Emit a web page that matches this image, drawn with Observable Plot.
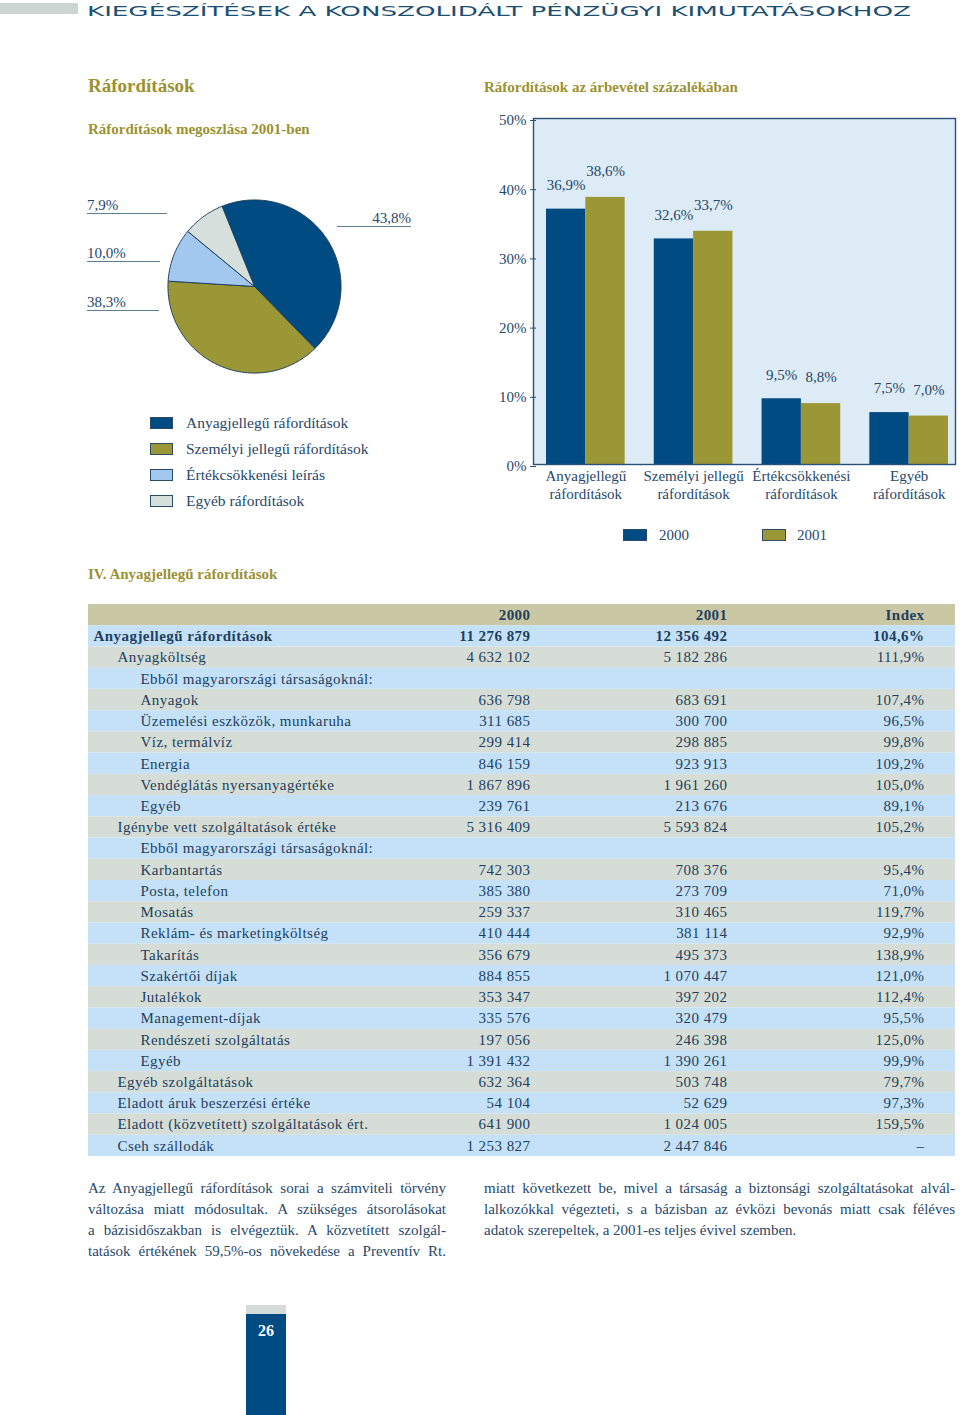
<!DOCTYPE html>
<html><head><meta charset="utf-8">
<script src="https://cdn.jsdelivr.net/npm/d3@7"></script>
<script src="https://cdn.jsdelivr.net/npm/@observablehq/plot@0.6"></script>
<style>
html,body{margin:0;padding:0;background:#fff;}
#page{position:relative;width:960px;height:1415px;overflow:hidden;font-family:"Liberation Serif",serif;color:#27486a;}
.abs{position:absolute;white-space:nowrap;}
.ttl{color:#9a9233;font-weight:bold;}
.line{white-space:nowrap;text-align:justify;text-align-last:justify;height:21px;line-height:21px;}
.line.last{text-align-last:left;}
</style></head>
<body><div id="page"></div>
<script>
// ---------- data ----------
const pieLabels = ["Anyagjellegű ráfordítások","Személyi jellegű ráfordítások","Értékcsökkenési leírás","Egyéb ráfordítások"];
const pieValues = [43.8, 38.3, 10.0, 7.9];
const pieColors = ["#004b82","#9c9736","#a3c8f0","#d5dfdc"];

const barCats = ["Anyagjellegű ráfordítások","Személyi jellegű ráfordítások","Értékcsökkenési ráfordítások","Egyéb ráfordítások"];
const barCatLines = ["Anyagjellegű\nráfordítások","Személyi jellegű\nráfordítások","Értékcsökkenési\nráfordítások","Egyéb\nráfordítások"];
const years = ["2000","2001"];
const share2000 = [36.9, 32.6, 9.5, 7.5];
const share2001 = [38.6, 33.7, 8.8, 7.0];
const yTicks = [0,10,20,30,40,50];

const tableHeader = ["", "2000", "2001", "Index"];
const rowLabels = ["Anyagjellegű ráfordítások","Anyagköltség","Ebből magyarországi társaságoknál:","Anyagok","Üzemelési eszközök, munkaruha","Víz, termálvíz","Energia","Vendéglátás nyersanyagértéke","Egyéb","Igénybe vett szolgáltatások értéke","Ebből magyarországi társaságoknál:","Karbantartás","Posta, telefon","Mosatás","Reklám- és marketingköltség","Takarítás","Szakértői díjak","Jutalékok","Management-díjak","Rendészeti szolgáltatás","Egyéb","Egyéb szolgáltatások","Eladott áruk beszerzési értéke","Eladott (közvetített) szolgáltatások ért.","Cseh szállodák"];
const rowLevels = [0,1,2,2,2,2,2,2,2,1,2,2,2,2,2,2,2,2,2,2,2,1,1,1,1];
const val2000 = [11276879,4632102,null,636798,311685,299414,846159,1867896,239761,5316409,null,742303,385380,259337,410444,356679,884855,353347,335576,197056,1391432,632364,54104,641900,1253827];
const val2001 = [12356492,5182286,null,683691,300700,298885,923913,1961260,213676,5593824,null,708376,273709,310465,381114,495373,1070447,397202,320479,246398,1390261,503748,52629,1024005,2447846];
const indexPct = [104.6,111.9,null,107.4,96.5,99.8,109.2,105.0,89.1,105.2,null,95.4,71.0,119.7,92.9,138.9,121.0,112.4,95.5,125.0,99.9,79.7,97.3,159.5,null];

// ---------- helpers ----------
const navy="#004b82", olive="#9c9736", textBlue="#27486a", panel="#dcebf5";
const loc = d3.formatLocale({decimal:",", thousands:"\u00a0", grouping:[3], currency:["",""]});
const fmtInt = loc.format(",d");
const fmt1 = loc.format(".1f");
const page = document.getElementById("page");
function place(html, x, cy, size, cls, extra){
  const d=document.createElement("div");
  d.className="abs "+(cls||"");
  d.style.left=x+"px"; d.style.top=(cy-size*0.6)+"px";
  d.style.fontSize=size+"px"; d.style.lineHeight=(size*1.2)+"px";
  if(extra) Object.assign(d.style, extra);
  d.innerHTML=html; page.appendChild(d); return d;
}
function box(x,y,w,h,style){const d=document.createElement("div");d.style.position="absolute";d.style.left=x+"px";d.style.top=y+"px";d.style.width=w+"px";d.style.height=h+"px";Object.assign(d.style,style||{});page.appendChild(d);return d;}

// ---------- header ----------
box(0,3,78,11,{background:"#cdd5d2"});
page.insertAdjacentHTML("beforeend",`<svg class="abs" style="left:0;top:0;overflow:visible" width="960" height="24"><text x="87" y="15.5" textLength="824" lengthAdjust="spacingAndGlyphs" font-family="DejaVu Sans" font-size="14.5" fill="#1d4f73">KIEGÉSZÍTÉSEK A KONSZOLIDÁLT PÉNZÜGYI KIMUTATÁSOKHOZ</text></svg>`);

// ---------- titles ----------
place("Ráfordítások",88,86,19,"ttl");
place("Ráfordítások az árbevétel százalékában",484,87,15,"ttl");
place("Ráfordítások megoszlása 2001-ben",88,129,15,"ttl");
place("IV. Anyagjellegű ráfordítások",88,574,15,"ttl");

// ---------- pie ----------
const start = -22*Math.PI/180;
const arcs = d3.pie().sort(null).startAngle(start).endAngle(start+2*Math.PI)(pieValues);
const piePts = [];
arcs.forEach((a,i)=>{
  const k=pieLabels[i];
  piePts.push({k,x:0,y:0});
  const n=Math.max(2,Math.ceil((a.endAngle-a.startAngle)/(Math.PI/180)));
  for(let j=0;j<=n;j++){const t=a.startAngle+(a.endAngle-a.startAngle)*j/n;piePts.push({k,x:Math.sin(t),y:Math.cos(t)});}
  piePts.push({k,x:0,y:0});
});
const pie = Plot.plot({
  width:180,height:180,margin:0,
  x:{domain:[-1.04,1.04],axis:null}, y:{domain:[-1.04,1.04],axis:null},
  color:{domain:pieLabels,range:pieColors},
  style:{background:"transparent"},
  marks:[Plot.line(piePts,{x:"x",y:"y",z:"k",fill:"k",stroke:"#1f3f5c",strokeWidth:1,strokeLinejoin:"round"})]
});
pie.style.position="absolute";pie.style.left="164px";pie.style.top="196px";
page.appendChild(pie);

// pie labels
const pieLab=[
  {t:fmt1(pieValues[3])+"%", x:87, cy:205, ux1:87, ux2:167, uy:213, align:"left"},
  {t:fmt1(pieValues[2])+"%", x:87, cy:253, ux1:87, ux2:160, uy:261, align:"left"},
  {t:fmt1(pieValues[1])+"%", x:87, cy:302, ux1:87, ux2:159, uy:310, align:"left"},
  {t:fmt1(pieValues[0])+"%", x:411, cy:218, ux1:337, ux2:411, uy:226, align:"right"}
];
pieLab.forEach(p=>{
  const d=place(p.t, p.x, p.cy, 15, "");
  if(p.align==="right"){d.style.left="auto";d.style.right=(960-p.x)+"px";}
  box(p.ux1,p.uy,p.ux2-p.ux1,1.3,{background:"#5f7d92"});
});
// pie legend
pieLabels.forEach((l,i)=>{
  const y=417+i*26;
  box(150,y,23,12,{background:pieColors[i],border:"1px solid #2b4a63",boxSizing:"border-box"});
  place(l,186,y+6,15.5,"");
});

// ---------- bar chart ----------
const barData = [];
barCats.forEach((c,i)=>{barData.push({cat:c,year:years[0],v:share2000[i]});barData.push({cat:c,year:years[1],v:share2001[i]});});
const xRange=[66,468], pin=0.27;
const bw=(xRange[1]-xRange[0])/(barCats.length-pin)*(1-pin);
const d00=barData.filter(d=>d.year===years[0]), d01=barData.filter(d=>d.year===years[1]);
const bars = Plot.plot({
  width:480,height:409,marginLeft:53,marginRight:5,marginTop:18,marginBottom:45,
  style:{background:"transparent",fontFamily:"Liberation Serif",fontSize:"15px",color:textBlue,overflow:"visible"},
  x:{domain:barCats,range:xRange,paddingInner:pin,paddingOuter:0,round:false},
  y:{domain:[0,50]},
  marks:[
    Plot.frame({fill:panel,stroke:null}),
    Plot.barY(d00,{x:"cat",y:"v",fill:navy,insetRight:bw/2}),
    Plot.barY(d01,{x:"cat",y:"v",fill:olive,insetLeft:bw/2}),
    Plot.text(d00,{x:"cat",y:"v",text:d=>fmt1(d.v)+"%",dx:-bw/4,dy:-24,fill:textBlue,fontSize:15}),
    Plot.text(d01,{x:"cat",y:"v",text:d=>fmt1(d.v)+"%",dx:bw/4,dy:-26,fill:textBlue,fontSize:15}),
    Plot.frame({stroke:"#2a5078",strokeWidth:1.4}),
    Plot.axisY({ticks:yTicks,tickFormat:d=>d+"%",tickSize:6,tickPadding:4,dx:3,dy:2,label:null,stroke:"#2a5078",fill:textBlue}),
    Plot.axisX({tickSize:0,tickPadding:4,tickFormat:d=>barCatLines[barCats.indexOf(d)],lineHeight:1.2,label:null,fill:textBlue})
  ]
});
bars.style.position="absolute";bars.style.left="480px";bars.style.top="100px";
page.appendChild(bars);
// bar legend
[[623,659],[762,797]].forEach(([sx,tx],i)=>{
  box(sx,529,24,12,{background:[navy,olive][i],border:"1px solid #2b4a63",boxSizing:"border-box"});
  place(years[i],tx,535,15,"");
});

// ---------- table ----------
const rows=[{i:0,label:"",lvl:-1,a:tableHeader[1],b:tableHeader[2],c:tableHeader[3]}];
rowLabels.forEach((l,k)=>rows.push({i:k+1,label:l,lvl:rowLevels[k],
  a:val2000[k]==null?"":fmtInt(val2000[k]),
  b:val2001[k]==null?"":fmtInt(val2001[k]),
  c:(val2000[k]==null)?"":(indexPct[k]==null?"–":fmt1(indexPct[k])+"%")}));
const tW=867, tH=552;
const boldRows=rows.filter(r=>r.lvl<=0), normRows=rows.filter(r=>r.lvl>0);
const tOpts=(extra)=>Object.assign({y:"i",fill:"#223f5e",fontSize:15},extra);
const table = Plot.plot({
  width:tW,height:tH,margin:0,
  x:{domain:[0,1],axis:null},
  y:{domain:rows.map(r=>r.i),axis:null,padding:0,round:false},
  style:{background:"transparent",fontFamily:"Liberation Serif",fontSize:"15px",letterSpacing:"0.45px"},
  marks:[
    Plot.barX(rows,{x1:0,x2:1,y:"i",fill:d=>d.i===0?"#cac7a5":(d.i%2?"#c4e1f8":"#d6ddd6")}),
    Plot.text(rows.filter(r=>r.lvl===0),tOpts({text:"label",frameAnchor:"left",dx:5,fontWeight:"bold"})),
    Plot.text(rows.filter(r=>r.lvl===1),tOpts({text:"label",frameAnchor:"left",dx:29})),
    Plot.text(rows.filter(r=>r.lvl===2),tOpts({text:"label",frameAnchor:"left",dx:52})),
    ...[["a",530],["b",727],["c",924]].flatMap(([k,px])=>[
      Plot.text(boldRows,tOpts({text:k,frameAnchor:"right",textAnchor:"end",dx:px-955,fontWeight:"bold"})),
      Plot.text(normRows,tOpts({text:k,frameAnchor:"right",textAnchor:"end",dx:px-955}))
    ])
  ]
});
table.style.position="absolute";table.style.left="88px";table.style.top="604px";
page.appendChild(table);

// ---------- footer text ----------
const leftLines=["Az Anyagjellegű ráfordítások sorai a számviteli törvény","változása miatt módosultak. A szükséges átsorolásokat","a bázisidőszakban is elvégeztük. A közvetített szolgál-","tatások értékének 59,5%-os növekedése a Preventív Rt."];
const rightLines=["miatt következett be, mivel a társaság a biztonsági szolgáltatásokat alvál-","lalkozókkal végezteti, s a bázisban az évközi bevonás miatt csak féléves","adatok szerepeltek, a 2001-es teljes évivel szemben."];
function col(lines,x,w,lastLeft){
  const d=box(x,1177.5,w,100,{fontSize:"15px",color:textBlue});
  lines.forEach((l,i)=>{const e=document.createElement("div");e.className="line"+(lastLeft&&i===lines.length-1?" last":"");e.textContent=l;d.appendChild(e);});
}
col(leftLines,88,358,false);
col(rightLines,484,471,true);

// ---------- page number ----------
box(246,1305,40,9,{background:"#d5dbd8"});
box(246,1314,40,101,{background:"#004b82"});
place("26",246,1331,16,"",{width:"40px",textAlign:"center",color:"#fff",fontWeight:"bold"});
</script></body></html>
